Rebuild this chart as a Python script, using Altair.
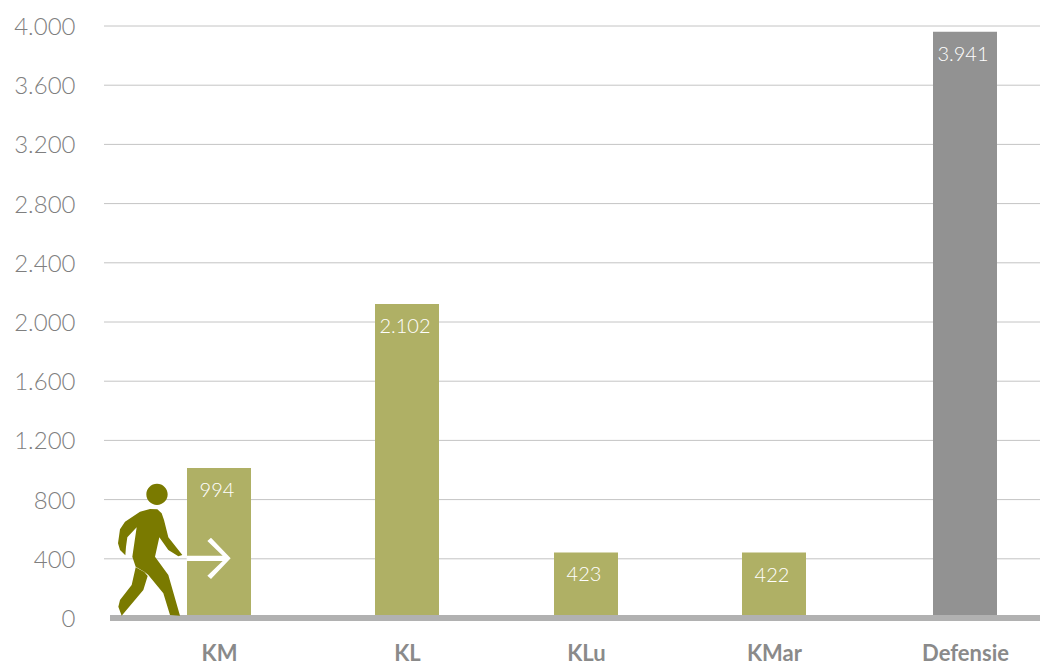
import altair as alt
import pandas as pd

categories = ["KM", "KL", "KLu", "KMar", "Defensie"]
values = [994, 2102, 423, 422, 3941]
value_labels = ["994", "2.102", "423", "422", "3.941"]
groups = ["Krijgsmacht", "Krijgsmacht", "Krijgsmacht", "Krijgsmacht", "Totaal"]
grid_values = [400, 800, 1200, 1600, 2000, 2400, 2800, 3200, 3600, 4000]
tick_values = [0] + grid_values
bar_centres = [117, 305, 484, 672, 863]

# Pictogram outlines (pictogram units)
BODY = [(150,177),(172,178),(185,190),(192,210),(205,262),(247,315),(235,319),(205,300),(178,262),
        (165,320),(205,375),(240,497),(210,495),(190,430),(145,375),(133,365),(107,350),(97,320),
        (110,232),(82,262),(78,290),(76,316),(60,300),(54,280),(60,238),(75,215),(120,185)]
LEG = [(107,352),(133,366),(143,378),(130,420),(65,497),(55,470),(60,450),(95,405)]
ARROW = [(260,317),(368,317),(322,273),(333,263),(392,325),(333,387),(322,377),(368,333),(260,333)]

def poly(pts):
    return "M" + "L".join(f"{(x-150)/300:.4f},{(y-300)/300:.4f}" for x, y in pts) + "Z"

r = 32 / 300
cx, cy = (171-150)/300, (133-300)/300
HEAD = f"M{cx-r:.4f},{cy:.4f}A{r:.4f},{r:.4f} 0 1,1 {cx+r:.4f},{cy:.4f}A{r:.4f},{r:.4f} 0 1,1 {cx-r:.4f},{cy:.4f}Z"

df = pd.DataFrame({"idx": range(5), "cat": categories, "value": values,
                   "label": value_labels, "group": groups})
grid_df = pd.DataFrame({"v": grid_values})

idx_list = "[" + ",".join(f"'{c}'" for c in categories) + "]"
x_scale = alt.Scale(domain=list(range(5)), range=bar_centres, padding=0)
y_scale = alt.Scale(domain=[0, 4000], nice=False, zero=True)
x_axis = alt.Axis(values=list(range(5)), labelExpr=f"{idx_list}[datum.value]",
                  domain=False, ticks=False, grid=False, labelFont="Lato",
                  labelFontSize=22, labelFontWeight="bold", labelColor="#8a8a8a",
                  labelPadding=25, labelOverlap=False, labelFlush=False, title=None)
y_axis = alt.Axis(values=tick_values,
                  labelExpr="replace(format(datum.value, ','), ',', '.')",
                  domain=False, ticks=False, grid=False, labelFont="Lato",
                  labelFontSize=24, labelFontWeight=300, labelColor="#7f7f7f",
                  labelPadding=27, labelOffset=1.5, title=None)

grid = alt.Chart(grid_df).mark_rule(color="#c4c4c4", strokeWidth=1).encode(
    y=alt.Y("v:Q", scale=y_scale, axis=y_axis),
    x=alt.value(2), x2=alt.value(946))

bars = alt.Chart(df).mark_bar(size=64, yOffset=-3, y2Offset=-3).encode(
    x=alt.X("idx:Q", scale=x_scale, axis=x_axis),
    y=alt.Y("value:Q", scale=y_scale, axis=y_axis),
    color=alt.Color("group:N", legend=None,
                    scale=alt.Scale(domain=["Krijgsmacht", "Totaal"], range=["#afb065", "#929292"])))

baseline = alt.Chart(pd.DataFrame({"v": [0]})).mark_rule(color="#b1b1b1", strokeWidth=6).encode(
    y=alt.Y("v:Q", scale=y_scale, axis=y_axis), x=alt.value(8), x2=alt.value(946))

labels = alt.Chart(df).mark_text(color="white", font="Lato", fontSize=20, fontWeight=300, dy=20, dx=-2,
                                 baseline="middle").encode(
    x=alt.X("idx:Q", scale=x_scale, axis=x_axis),
    y=alt.Y("value:Q", scale=y_scale, axis=y_axis),
    text="label:N")

icon_pos = pd.DataFrame({"k": [1]})
def icon(path, color):
    return alt.Chart(icon_pos).mark_point(shape=path, filled=True, fill=color, opacity=1,
                                          strokeWidth=0, size=40000).encode(
        x=alt.value(48), y=alt.value(524))

chart = alt.layer(
    grid, bars, baseline, labels,
    icon(poly(ARROW), "white"),
    icon(poly(BODY) + poly(LEG) + HEAD, "#7a7a00")
).properties(
    width=938, height=592,
    padding={"left": 94, "top": 18, "right": 0, "bottom": 46},
    autosize=alt.AutoSizeParams(type="none"),
    background="white",
).configure_view(stroke=None)

chart.save("out.html", embed_options={"renderer": "svg", "actions": False})
